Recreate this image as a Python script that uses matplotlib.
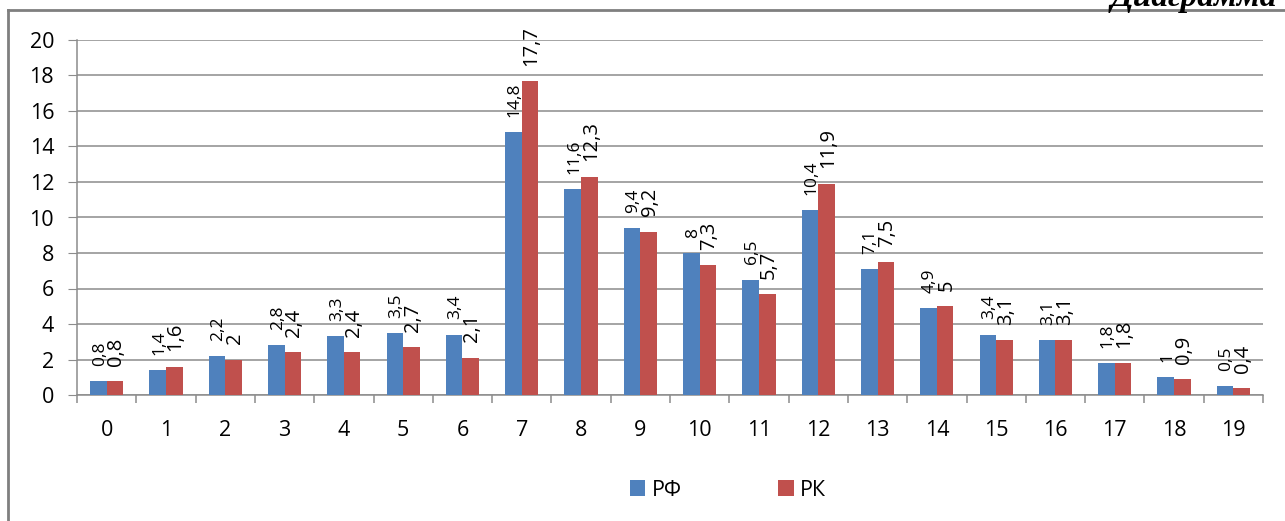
import numpy as np
import matplotlib
matplotlib.use('Agg')
from matplotlib import pyplot as plt
from matplotlib.lines import Line2D

# данные с диаграммы
categories = [str(i) for i in range(20)]
rf = [0.8, 1.4, 2.2, 2.8, 3.3, 3.5, 3.4, 14.8, 11.6, 9.4, 8, 6.5, 10.4, 7.1, 4.9, 3.4, 3.1, 1.8, 1, 0.5]
rk = [0.8, 1.6, 2, 2.4, 2.4, 2.7, 2.1, 17.7, 12.3, 9.2, 7.3, 5.7, 11.9, 7.5, 5, 3.1, 3.1, 1.8, 0.9, 0.4]
series_names = ['РФ', 'РК']

plt.rcParams['font.family'] = ['Open Sans', 'DejaVu Sans']

W, H = 1285, 521
fig = plt.figure(figsize=(W / 100, H / 100), dpi=100)
ax = fig.add_axes([77 / W, (H - 395) / H, (1263 - 77) / W, (395 - 40) / H])

blue = '#4F81BD'
red = '#C0504D'
grid_c = '#8c8c8c'
w = 0.28
x = np.arange(len(categories))

b1 = ax.bar(x - w / 2, rf, w, color=blue, label=series_names[0], zorder=3)
b2 = ax.bar(x + w / 2, rk, w, color=red, label=series_names[1], zorder=3)


def fmt(v):
    # десятичная запятая
    return ('%g' % v).replace('.', ',')


# подписи значений, повернутые на 90 градусов
for xi, v in zip(x, rf):
    ax.annotate(fmt(v), (xi - w / 2, v), xytext=(1, 11), textcoords='offset points',
                rotation=90, ha='center', va='bottom', fontsize=12.5, zorder=4)
for xi, v in zip(x, rk):
    ax.annotate(fmt(v), (xi + w / 2, v), xytext=(1, 11), textcoords='offset points',
                rotation=90, ha='center', va='bottom', fontsize=14.5, zorder=4)

ax.set_xlim(-0.5, len(categories) - 0.5)
ax.set_ylim(0, 20)
ax.set_yticks(np.arange(0, 21, 2))
ax.set_xticks(x)
ax.set_xticklabels(categories)
ax.set_xticks(np.arange(-0.5, len(categories), 1), minor=True)

ax.grid(axis='y', color=grid_c, linewidth=1.1, zorder=0)
for s in ['top', 'right']:
    ax.spines[s].set_visible(False)
for s in ['left', 'bottom']:
    ax.spines[s].set_color(grid_c)
    ax.spines[s].set_linewidth(1.1)

ax.tick_params(axis='y', length=6.5, color=grid_c, pad=10, labelsize=15.5)
ax.tick_params(axis='x', which='major', length=0, pad=18, labelsize=15.5)
ax.tick_params(axis='x', which='minor', length=6, color=grid_c, width=1.1)

# легенда
leg = fig.legend(handles=[b1, b2], loc='center', bbox_to_anchor=(728 / W, 1 - 490 / H),
                 ncol=2, frameon=False, fontsize=15.5, handlelength=0.7, handleheight=0.7,
                 handletextpad=0.3, columnspacing=4.5)

# рамка области диаграммы
fig.add_artist(Line2D([8 / W, 8 / W], [0, 1 - 10 / H], transform=fig.transFigure,
                      color='#7f7f7f', linewidth=2))
fig.add_artist(Line2D([8 / W, 1], [1 - 10 / H, 1 - 10 / H], transform=fig.transFigure,
                      color='#7f7f7f', linewidth=2))

# обрезанная надпись сверху справа (в оригинале видна только нижняя часть)
fig.text(1277 / W, 1 - 6 / H, 'Диаграмма', ha='right', va='baseline',
         fontsize=24, fontweight='bold', fontstyle='italic', family='Liberation Serif')

fig.savefig('out.png', dpi=100)
